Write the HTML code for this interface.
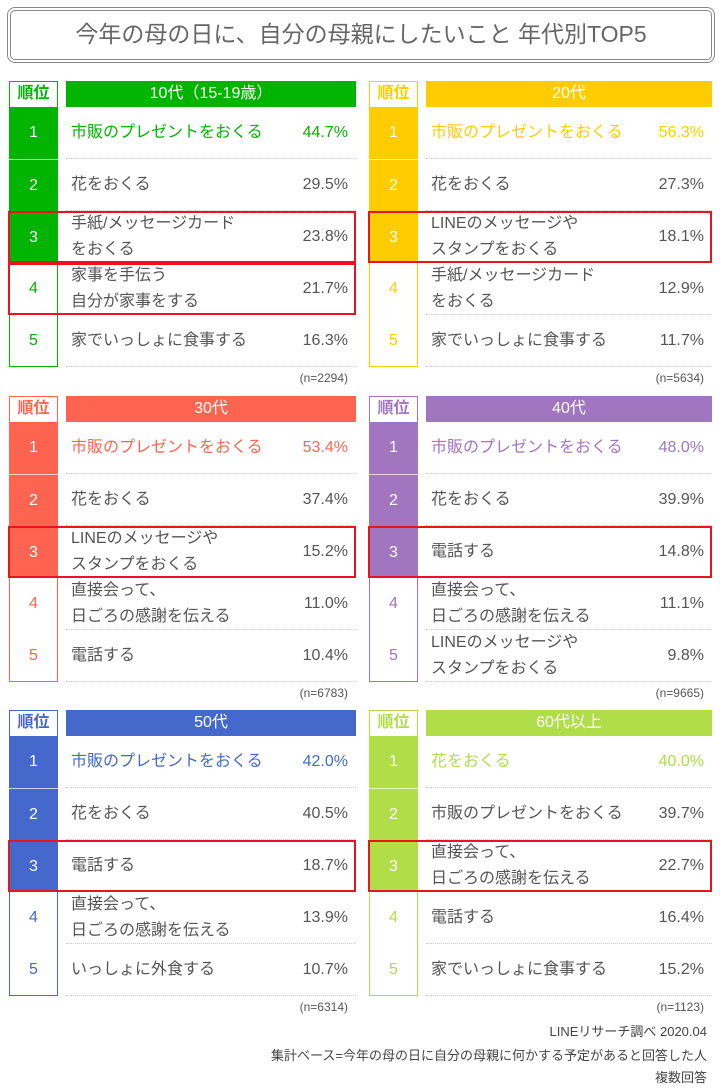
<!DOCTYPE html>
<html><head><meta charset="utf-8">
<style>
body{margin:0;background:#fff;width:720px;height:1089px;position:relative;overflow:hidden;font-family:"Liberation Sans","Noto Sans CJK JP",sans-serif;color:#555}
.abs{position:absolute;box-sizing:border-box}
#title{left:7px;top:7px;width:708px;height:56px;border:4px double #888;border-radius:8px;text-align:center;line-height:46px;font-size:23px;color:#666}
.foot{right:13px;font-size:13px;color:#444;text-align:right;white-space:nowrap}
</style></head><body>
<div class="abs" id="title">今年の母の日に、自分の母親にしたいこと 年代別TOP5</div>
<div id="panels"></div>
<div class="abs foot" style="top:1021px">LINEリサーチ調べ 2020.04</div>
<div class="abs foot" style="top:1045px">集計ベース=今年の母の日に自分の母親に何かする予定があると回答した人</div>
<div class="abs foot" style="top:1067px">複数回答</div>
<script>
const panelTitles=["10代（15-19歳）","20代","30代","40代","50代","60代以上"];
const panelColors=["#00b400","#ffcc00","#ff6450","#a275c0","#4468cc","#b0dd48"];
const sampleSizes=["(n=2294)","(n=5634)","(n=6783)","(n=9665)","(n=6314)","(n=1123)"];
const items=[
 ["市販のプレゼントをおくる","花をおくる","手紙/メッセージカード<br>をおくる","家事を手伝う<br>自分が家事をする","家でいっしょに食事する"],
 ["市販のプレゼントをおくる","花をおくる","LINEのメッセージや<br>スタンプをおくる","手紙/メッセージカード<br>をおくる","家でいっしょに食事する"],
 ["市販のプレゼントをおくる","花をおくる","LINEのメッセージや<br>スタンプをおくる","直接会って、<br>日ごろの感謝を伝える","電話する"],
 ["市販のプレゼントをおくる","花をおくる","電話する","直接会って、<br>日ごろの感謝を伝える","LINEのメッセージや<br>スタンプをおくる"],
 ["市販のプレゼントをおくる","花をおくる","電話する","直接会って、<br>日ごろの感謝を伝える","いっしょに外食する"],
 ["花をおくる","市販のプレゼントをおくる","直接会って、<br>日ごろの感謝を伝える","電話する","家でいっしょに食事する"]];
const values=[[44.7,29.5,23.8,21.7,16.3],[56.3,27.3,18.1,12.9,11.7],[53.4,37.4,15.2,11.0,10.4],[48.0,39.9,14.8,11.1,9.8],[42.0,40.5,18.7,13.9,10.7],[40.0,39.7,22.7,16.4,15.2]];
const highlights=[[3,4],[3],[3],[3],[3],[3]];
const root=document.getElementById('panels');
function mk(cls,css,html){const d=document.createElement('div');d.className='abs '+(cls||'');d.style.cssText=css;if(html!==undefined)d.innerHTML=html;root.appendChild(d);return d;}
const tops=[81,396,710];const RH=52;
panelTitles.forEach((t,p)=>{
 const col=p%2,row=Math.floor(p/2);
 const x0=col?369:9, tx=col?426:66, tr=col?712:356, y0=tops[row], c=panelColors[p];
 let e=mk('',`left:${x0}px;top:${y0}px;width:49px;height:${26+RH*5}px;border:1px solid ${c}`);
 
 
 e=mk('',`left:${x0}px;top:${y0}px;width:49px;height:26px;text-align:center;line-height:26px;font-size:16px;font-weight:bold;color:${c}`,'順位');
 
 
 e=mk('',`left:${tx}px;top:${y0}px;width:${tr-tx}px;height:26px;background:${c};color:#fff;text-align:center;line-height:26px;font-size:16px`,t);
 
 
 for(let i=0;i<5;i++){
  const y=y0+26+i*RH, fill=i<3;
  e=mk('',`left:${x0}px;top:${y}px;width:49px;height:${RH}px;${fill?'background:'+c+';color:#fff;':'color:'+c+';'}${i>0&&fill?'border-top:1px solid rgba(255,255,255,.7);':''}text-align:center;line-height:${RH}px;font-size:16px`,String(i+1));
  
  
  const tc=i===0?c:'#555';
  const two=items[p][i].includes('<br>');
  e=mk('',`left:${tx+5}px;top:${y}px;width:230px;height:${RH}px;display:flex;align-items:center;font-size:16px;line-height:${two?26:20}px;color:${tc};white-space:nowrap`,items[p][i]);
  
  
  e=mk('',`left:${tr-80}px;top:${y}px;width:72px;height:${RH}px;text-align:right;line-height:${RH}px;font-size:16px;color:${tc}`,values[p][i].toFixed(1)+'%');
  
  
  e=mk('',`left:${tx}px;top:${y+RH-1}px;width:${tr-tx}px;height:0;border-top:1px dotted #ccc`);
  
  
 }
 highlights[p].forEach(r=>{
  const hl=mk('',`left:${x0-1}px;top:${y0+26+(r-1)*RH}px;width:${tr-x0+1}px;height:${RH}px;border:2px solid #e8141e`);
  
  
 });
 e=mk('',`left:${tr-100}px;top:${y0+26+RH*5+4}px;width:92px;text-align:right;font-size:12px;color:#555`,sampleSizes[p]);
 
 
});
</script>
</body></html>
